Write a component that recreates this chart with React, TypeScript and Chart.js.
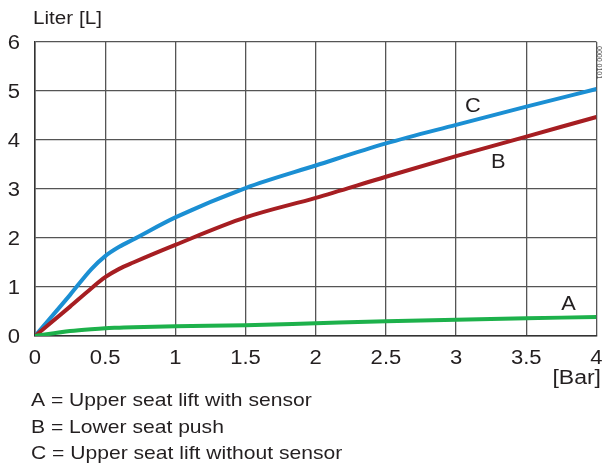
import React, { useEffect, useRef } from "react";
import { Chart, registerables } from "chart.js";

Chart.register(...registerables);

// ---- data ----
const pressureBar = [0, 0.25, 0.4, 0.5, 0.6, 0.7, 1, 1.5, 2, 2.5, 3, 3.5, 4];
const seriesC = [0, 0.84, 1.36, 1.63, 1.82, 1.97, 2.42, 3.02, 3.48, 3.93, 4.31, 4.68, 5.04];
const seriesB = [0, 0.6, 0.97, 1.2, 1.37, 1.5, 1.86, 2.42, 2.82, 3.25, 3.67, 4.07, 4.47];
const seriesA = [0, 0.1, 0.14, 0.16, 0.17, 0.18, 0.2, 0.22, 0.26, 0.3, 0.33, 0.36, 0.39];

const xTickLabels = ["0", "0.5", "1", "1.5", "2", "2.5", "3", "3.5", "4"];
const yTickLabels = ["0", "1", "2", "3", "4", "5", "6"];

const curveLetters = ["A", "B", "C"];
const curveLabelX = [3.8, 3.3, 3.12];
const curveLabelY = [0.67, 3.57, 4.71];

const legendLines = [
  "A = Upper seat lift with sensor",
  "B = Lower seat push",
  "C = Upper seat lift without sensor",
];

const yAxisTitle = "Liter [L]";
const xAxisTitle = "[Bar]";
const sideCode = "0000 0101";

const COLORS = { A: "#1db14b", B: "#a61e22", C: "#1b8fd3" };
const TEXT = "#231f20";
const FONT = '"Liberation Sans", Arial, sans-serif';

function drawText(
  ctx: CanvasRenderingContext2D,
  text: string,
  x: number,
  y: number,
  size: number,
  sx: number,
  align: CanvasTextAlign
) {
  ctx.save();
  ctx.font = `${size}px ${FONT}`;
  ctx.fillStyle = TEXT;
  ctx.textBaseline = "alphabetic";
  ctx.textAlign = align;
  ctx.translate(x, y);
  ctx.scale(sx, 1);
  ctx.fillText(text, 0, 0);
  ctx.restore();
}

const textPlugin = {
  id: "textPlugin",
  afterDraw(chart: any) {
    const ctx: CanvasRenderingContext2D = chart.ctx;
    const xs = chart.scales.x;
    const ys = chart.scales.y;
    xTickLabels.forEach((t) => {
      const px = xs.getPixelForValue(parseFloat(t));
      drawText(ctx, t, px, 364, 19.5, 1.13, "center");
    });
    yTickLabels.forEach((t) => {
      const py = ys.getPixelForValue(parseFloat(t));
      drawText(ctx, t, 20, py + 7, 19.5, 1.13, "right");
    });
    drawText(ctx, yAxisTitle, 33, 23.5, 17.5, 1.18, "left");
    drawText(ctx, xAxisTitle, 601, 384, 19.5, 1.18, "right");
    curveLetters.forEach((l, i) => {
      const px = xs.getPixelForValue(curveLabelX[i]);
      const py = ys.getPixelForValue(curveLabelY[i]);
      drawText(ctx, l, px, py + 7, 19.5, 1.12, "center");
    });
    legendLines.forEach((l, i) => {
      drawText(ctx, l, 31, 406 + i * 26.7, 19, 1.11, "left");
    });
    ctx.save();
    ctx.translate(599, 46);
    ctx.rotate(Math.PI / 2);
    ctx.font = `7px ${FONT}`;
    ctx.fillStyle = "#555";
    ctx.textAlign = "left";
    ctx.textBaseline = "middle";
    ctx.fillText(sideCode, 0, 0);
    ctx.restore();
  },
};

export default function App() {
  const ref = useRef<HTMLCanvasElement | null>(null);

  useEffect(() => {
    if (!ref.current) return;
    const mk = (data: number[], color: string) => ({
      data: pressureBar.map((x, i) => ({ x, y: data[i] })),
      borderColor: color,
      backgroundColor: color,
      borderWidth: 4,
      pointRadius: 0,
      cubicInterpolationMode: "monotone" as const,
      fill: false,
    });
    const chart = new Chart(ref.current, {
      type: "line",
      data: {
        datasets: [
          mk(seriesA, COLORS.A),
          mk(seriesB, COLORS.B),
          mk(seriesC, COLORS.C),
        ],
      },
      options: {
        responsive: false,
        animation: false,
        devicePixelRatio: 1,
        layout: { padding: { left: 0, right: 8.5, top: 42, bottom: 0 } },
        plugins: {
          legend: { display: false },
          tooltip: { enabled: false },
        },
        scales: {
          x: {
            type: "linear",
            min: 0,
            max: 4,
            ticks: { display: false, stepSize: 0.5 },
            grid: { color: "#555", lineWidth: 1.3, drawTicks: false },
            border: { color: "#333", width: 1.5 },
            afterFit: (s: any) => {
              s.height = 127;
            },
          },
          y: {
            type: "linear",
            min: 0,
            max: 6,
            ticks: { display: false, stepSize: 1 },
            grid: { color: "#555", lineWidth: 1.3, drawTicks: false },
            border: { color: "#333", width: 1.5 },
            afterFit: (s: any) => {
              s.width = 35;
            },
          },
        },
      },
      plugins: [textPlugin],
    });
    return () => chart.destroy();
  }, []);

  return (
    <div style={{ position: "fixed", left: 0, top: 0, width: 605, height: 463, background: "#fff" }}>
      <canvas ref={ref} width={605} height={463} />
    </div>
  );
}
